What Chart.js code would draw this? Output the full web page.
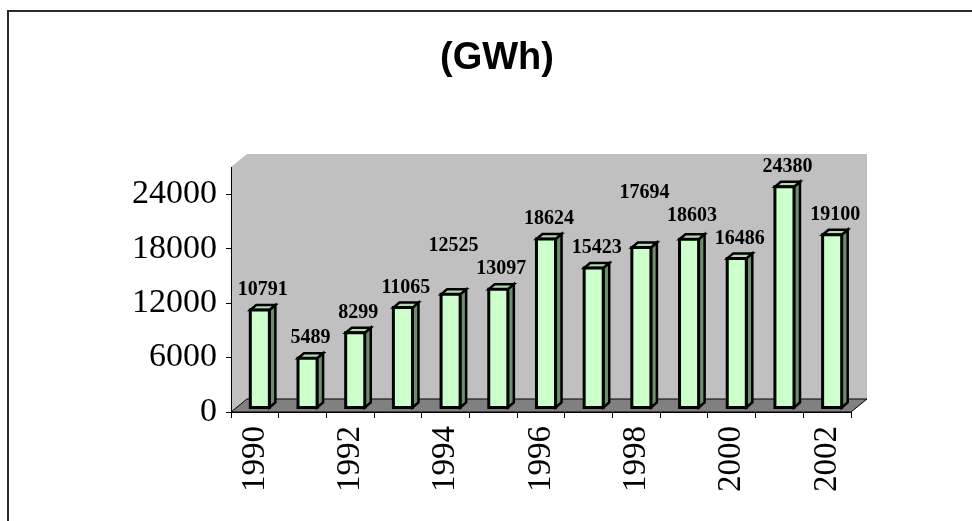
<!DOCTYPE html>
<html>
<head>
<meta charset="utf-8">
<script src="https://cdn.jsdelivr.net/npm/chart.js@4/dist/chart.umd.min.js"></script>
<style>
  html, body { margin: 0; padding: 0; background: #ffffff; }
  canvas { display: block; }
</style>
</head>
<body>
<canvas id="chart" width="972" height="521"></canvas>
<script>
// Annual output, GWh
const chartTitle = '(GWh)';
const years = ['1990', '1991', '1992', '1993', '1994', '1995', '1996',
               '1997', '1998', '1999', '2000', '2001', '2002'];
const generation = [10791, 5489, 8299, 11065, 12525, 13097, 18624,
                    15423, 17694, 18603, 16486, 24380, 19100];
const valueTicks = [0, 6000, 12000, 18000, 24000];
const valueAxisMax = 27000;

// Pseudo-3D geometry (pixels)
const WALL_DEPTH = { x: 16, y: -13 };
const BAR_SHIFT = { x: 5, y: -4 };
const BAR_DEPTH = { x: 6, y: -5 };

const COLORS = {
  wall: '#c0c0c0',
  floor: '#808080',
  front: '#ccffcc',
  top: '#b4dcb4',
  side: '#6b8e6b',
  edge: '#000000',
  frame: '#2a2a2a'
};

const LABEL_FONT = 'bold 20px "Liberation Serif", "Times New Roman", serif';
const LABEL_HEIGHT = 20;

function poly(ctx, pts, fill, stroke, lw) {
  ctx.beginPath();
  ctx.moveTo(pts[0][0], pts[0][1]);
  for (let i = 1; i < pts.length; i++) ctx.lineTo(pts[i][0], pts[i][1]);
  ctx.closePath();
  if (fill) { ctx.fillStyle = fill; ctx.fill(); }
  if (stroke) { ctx.strokeStyle = stroke; ctx.lineWidth = lw; ctx.lineJoin = 'miter'; ctx.stroke(); }
}

// Outer frame, title, back wall, side wall and floor
const wallsPlugin = {
  id: 'walls',
  beforeDraw(chart) {
    const ctx = chart.ctx;
    const a = chart.chartArea;
    const dx = WALL_DEPTH.x, dy = WALL_DEPTH.y;
    ctx.save();
    // frame
    ctx.strokeStyle = COLORS.frame;
    ctx.lineWidth = 2;
    ctx.beginPath();
    ctx.moveTo(8, chart.height + 2);
    ctx.lineTo(8, 11);
    ctx.lineTo(chart.width + 2, 11);
    ctx.stroke();
    // title, centred on the framed area
    ctx.fillStyle = '#000000';
    ctx.font = 'bold 38px "Liberation Sans", Arial, sans-serif';
    ctx.textAlign = 'center';
    ctx.textBaseline = 'middle';
    ctx.fillText(chartTitle, chart.width / 2 + 11, 59);
    // back wall
    poly(ctx, [[a.left + dx, a.top + dy], [a.right + dx, a.top + dy],
               [a.right + dx, a.bottom + dy], [a.left + dx, a.bottom + dy]], COLORS.wall);
    // side wall
    poly(ctx, [[a.left, a.top], [a.left + dx, a.top + dy],
               [a.left + dx, a.bottom + dy], [a.left, a.bottom]], COLORS.wall);
    // floor
    poly(ctx, [[a.left, a.bottom], [a.right, a.bottom],
               [a.right + dx, a.bottom + dy], [a.left + dx, a.bottom + dy]],
         COLORS.floor, '#000000', 1);
    ctx.restore();
  }
};

// Prism bars with value labels
const prismPlugin = {
  id: 'prisms',
  afterDatasetsDraw(chart) {
    const ctx = chart.ctx;
    const meta = chart.getDatasetMeta(0);
    const ds = chart.data.datasets[0];
    const ddx = BAR_DEPTH.x, ddy = BAR_DEPTH.y;
    const labels = [];
    ctx.save();
    ctx.font = LABEL_FONT;
    meta.data.forEach((bar, i) => {
      const p = bar.getProps(['x', 'y', 'base', 'width'], true);
      const l = p.x - p.width / 2 + BAR_SHIFT.x;
      const r = p.x + p.width / 2 + BAR_SHIFT.x;
      const t = p.y + BAR_SHIFT.y;
      const b = p.base + BAR_SHIFT.y;
      poly(ctx, [[r, t], [r + ddx, t + ddy], [r + ddx, b + ddy], [r, b]], COLORS.side, COLORS.edge, 2.5);
      poly(ctx, [[l, t], [l + ddx, t + ddy], [r + ddx, t + ddy], [r, t]], COLORS.top, COLORS.edge, 2.5);
      poly(ctx, [[l, t], [r, t], [r, b], [l, b]], COLORS.front, COLORS.edge, 3);

      const text = String(ds.data[i]);
      labels.push({ text, cx: (l + r) / 2 + ddx / 2, cy: t - 20, w: ctx.measureText(text).width });
    });

    // keep neighbouring value labels from overlapping
    for (let i = labels.length - 2; i >= 0; i--) {
      const a = labels[i], n = labels[i + 1];
      const overlapX = Math.abs(a.cx - n.cx) < (a.w + n.w) / 2 + 2;
      const overlapY = Math.abs(a.cy - n.cy) < LABEL_HEIGHT;
      if (overlapX && overlapY) a.cy = n.cy - LABEL_HEIGHT - 3;
    }

    ctx.fillStyle = '#000000';
    ctx.textAlign = 'center';
    ctx.textBaseline = 'middle';
    labels.forEach(lb => ctx.fillText(lb.text, lb.cx, lb.cy));
    ctx.restore();
  }
};

new Chart(document.getElementById('chart'), {
  type: 'bar',
  data: {
    labels: years,
    datasets: [{
      label: 'GWh',
      data: generation,
      backgroundColor: 'rgba(0,0,0,0)',
      borderWidth: 0,
      categoryPercentage: 1.0,
      barPercentage: 0.4
    }]
  },
  options: {
    responsive: false,
    animation: false,
    events: [],
    layout: { padding: { left: 0, top: 167, right: 121, bottom: 0 } },
    plugins: {
      legend: { display: false },
      tooltip: { enabled: false },
      title: { display: false }
    },
    scales: {
      x: {
        grid: {
          offset: true,
          drawOnChartArea: false,
          drawTicks: true,
          tickLength: 6,
          color: '#000000',
          lineWidth: 1
        },
        border: { display: true, color: '#000000', width: 1 },
        ticks: {
          autoSkip: false,
          minRotation: 90,
          maxRotation: 90,
          padding: 8,
          color: '#000000',
          font: { family: '"Liberation Serif", "Times New Roman", serif', size: 33 },
          callback: (value, index) => (index % 2 === 0 ? years[index] : '')
        },
        afterFit(scale) { scale.height = 109; }
      },
      y: {
        min: 0,
        max: valueAxisMax,
        grid: {
          drawOnChartArea: false,
          drawTicks: true,
          tickLength: 5,
          color: '#000000',
          lineWidth: 1
        },
        border: { display: true, color: '#000000', width: 1 },
        ticks: {
          padding: 9,
          color: '#000000',
          font: { family: '"Liberation Serif", "Times New Roman", serif', size: 34 },
          callback: (value) => String(value)
        },
        afterBuildTicks(scale) { scale.ticks = valueTicks.map(v => ({ value: v })); },
        afterFit(scale) { scale.width = 231; }
      }
    }
  },
  plugins: [wallsPlugin, prismPlugin]
});
</script>
</body>
</html>
